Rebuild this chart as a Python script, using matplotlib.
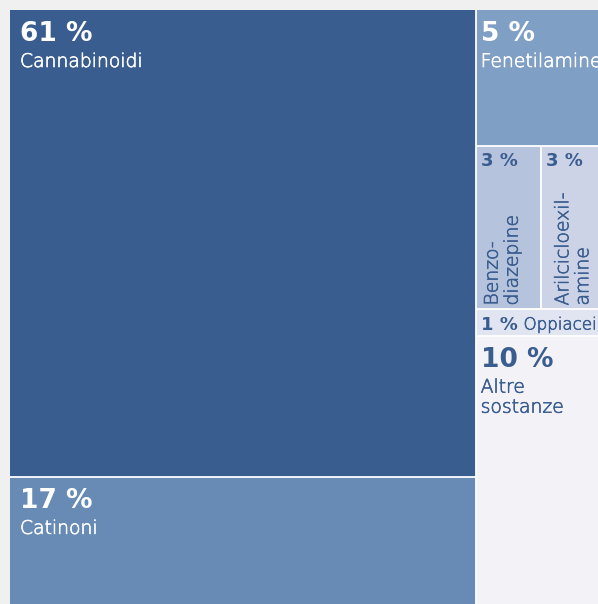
import matplotlib
matplotlib.use("Agg")
import matplotlib.pyplot as plt
import matplotlib.patheffects as pe
from matplotlib.patches import Rectangle

# ---- data ----
left_labels = ["Cannabinoidi", "Catinoni"]
left_values = [61, 17]
right_labels = ["Fenetilamine", "Benzo-\ndiazepine", "Arilcicloexil-\namine", "Oppiacei", "Altre\nsostanze"]
right_values = [5, 3, 3, 1, 10]
pct_labels = ["61 %", "17 %", "5 %", "3 %", "3 %", "1 %", "10 %"]

# ---- style ----
colors = ["#3a5d8f", "#678bb5", "#7f9fc5", "#b6c3dd", "#ccd3e6", "#e1e5f1", "#f3f2f7"]
dark = "#3a5d8f"
bg = "#f0f0f0"
NAME_W = "light"


def thick(c):
    return [pe.withStroke(linewidth=0.45, foreground=c)]


W_PX, H_PX = 598, 604
fig = plt.figure(figsize=(W_PX / 100, H_PX / 100), dpi=100, facecolor=bg)
ax = fig.add_axes([0, 0, 1, 1])
ax.set_xlim(0, W_PX)
ax.set_ylim(H_PX, 0)
ax.axis("off")

# treemap area (extends past the cropped figure edge)
X0, Y0, SIDE = 10, 10, 597
total = sum(left_values) + sum(right_values)
left_w = SIDE * sum(left_values) / total
right_w = SIDE - left_w

rects = []  # (x, y, w, h)
y = Y0
for v in left_values:
    h = SIDE * v / sum(left_values)
    rects.append((X0, y, left_w, h))
    y += h

rv = right_values
rsum = sum(rv)
y = Y0
xr = X0 + left_w
h = SIDE * rv[0] / rsum
rects.append((xr, y, right_w, h)); y += h
h = SIDE * (rv[1] + rv[2]) / rsum
w1 = right_w * rv[1] / (rv[1] + rv[2])
rects.append((xr, y, w1, h))
rects.append((xr + w1, y, right_w - w1, h)); y += h
h = SIDE * rv[3] / rsum
rects.append((xr, y, right_w, h)); y += h
h = SIDE * rv[4] / rsum
rects.append((xr, y, right_w, h)); y += h

for (x, yy, w, h), c in zip(rects, colors):
    ax.add_patch(Rectangle((x, yy), w, h, facecolor=c, edgecolor="none"))
for (x, yy, w, h) in rects:
    if x > X0 + 0.5:
        ax.plot([x, x], [yy, yy + h], color="white", lw=1.3, solid_capstyle="butt")
    if yy > Y0 + 0.5:
        ax.plot([x, x + w], [yy, yy], color="white", lw=1.3, solid_capstyle="butt")

names = left_labels + right_labels
text_colors = ["white", "white", "white", dark, dark, dark, dark]
BIG, NAME, SMALL = 19, 13.5, 13
LINE = 20

for i, dx in [(0, 10), (1, 10), (2, 5), (6, 5)]:
    x, yy, w, h = rects[i]
    tc = text_colors[i]
    ax.text(x + dx, yy + 31, pct_labels[i], color=tc, fontsize=BIG,
            fontweight="bold", va="baseline", ha="left")
    for k, line in enumerate(names[i].split("\n")):
        ax.text(x + dx, yy + 57 + k * LINE, line, color=tc, fontsize=NAME,
                fontweight=NAME_W, va="baseline", ha="left",
                path_effects=thick(tc))

for i, base_dx in [(3, 22), (4, 27)]:
    x, yy, w, h = rects[i]
    ax.text(x + 5, yy + 20, pct_labels[i], color=dark, fontsize=SMALL,
            fontweight="bold", va="baseline", ha="left")
    for k, line in enumerate(names[i].split("\n")):
        ax.text(x + base_dx + k * LINE, yy + h - 3, line, color=dark,
                fontsize=NAME, fontweight=NAME_W, rotation=90,
                rotation_mode="anchor", va="baseline", ha="left",
                path_effects=thick(dark))

x, yy, w, h = rects[5]
t = ax.text(x + 5, yy + 21, pct_labels[5], color=dark, fontsize=SMALL,
            fontweight="bold", va="baseline", ha="left")
fig.canvas.draw()
bb = t.get_window_extent(renderer=fig.canvas.get_renderer())
inv = ax.transData.inverted()
x_end = inv.transform((bb.x1, bb.y0))[0]
ax.text(x_end + 6, yy + 21, names[5], color=dark, fontsize=12,
        fontweight=NAME_W, va="baseline", ha="left", path_effects=thick(dark))

fig.savefig("out.png", dpi=100, facecolor=bg)
